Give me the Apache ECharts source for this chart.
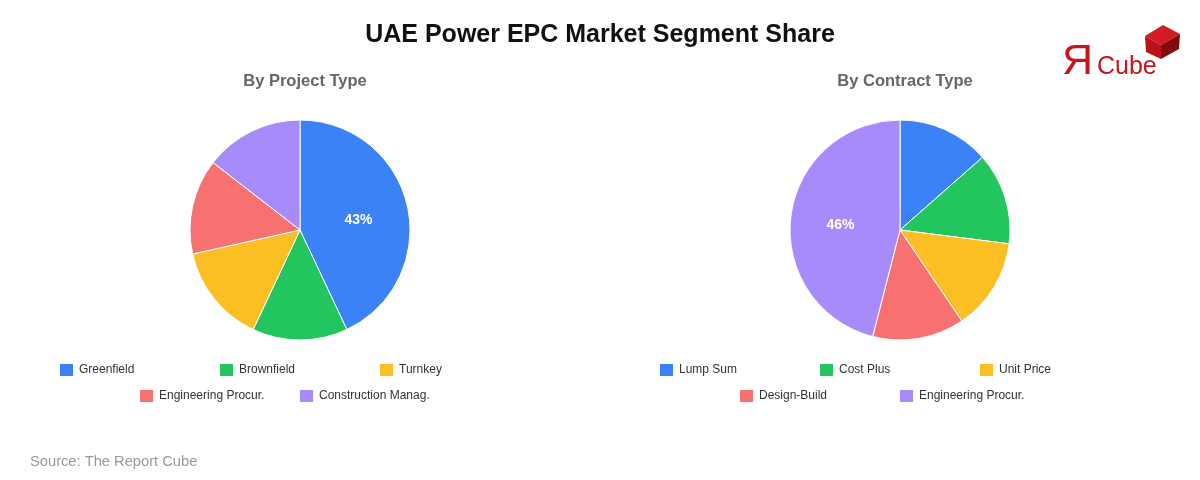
<!DOCTYPE html>
<html lang="en">
<head>
    <meta charset="UTF-8">
    <title>UAE Power EPC Market Segment Share</title>
    <script src="https://cdn.jsdelivr.net/npm/echarts@6/dist/echarts.min.js"></script>
    <style>
        html, body { margin: 0; padding: 0; background: #fff; }
        #main { width: 1200px; height: 480px; }
    </style>
</head>
<body>
<div id="main"></div>
<script>
    // data
    var projectTypes = ['Greenfield', 'Brownfield', 'Turnkey', 'Engineering Procur.', 'Construction Manag.'];
    var projectShare = [43, 14, 14.5, 14, 14.5];
    var contractTypes = ['Lump Sum', 'Cost Plus', 'Unit Price', 'Design-Build', 'Engineering Procur.'];
    var contractShare = [13.5, 13.5, 13.5, 13.5, 46];
    var colors = ['#3b82f6', '#22c55e', '#fbbf24', '#f87171', '#a78bfa'];

    var chart = echarts.init(document.getElementById('main'));
    var FONT = 'Liberation Sans, Arial, sans-serif';
    var R = 110;

    // pie data items; label nudged a little outward and down to sit like the ref
    function buildData(names, values) {
        var total = values.reduce(function (a, b) { return a + b; }, 0);
        var acc = 0;
        return names.map(function (n, i) {
            var mid = (acc + values[i] / 2) / total * Math.PI * 2;
            acc += values[i];
            return {
                name: n,
                value: values[i],
                itemStyle: { color: colors[i] },
                label: { offset: [2 * Math.sin(mid), -2 * Math.cos(mid) + 3] }
            };
        });
    }

    function pieSeries(names, values, cx) {
        return {
            type: 'pie',
            center: [cx, 230],
            radius: [0, R],
            startAngle: 90,
            clockwise: true,
            silent: true,
            itemStyle: { borderColor: '#fff', borderWidth: 1 },
            label: {
                show: true,
                position: 'inner',
                color: '#fff',
                fontFamily: FONT,
                fontSize: 14,
                fontWeight: 'bold',
                formatter: function (p) {
                    return p.percent > 20 ? Math.round(p.percent) + '%' : '';
                }
            },
            labelLine: { show: false },
            data: buildData(names, values)
        };
    }

    // one legend per item so the columns sit on a fixed 160px grid
    function legends(names, cx) {
        var out = [];
        names.forEach(function (n, i) {
            var row = i < 3 ? 0 : 1;
            var col = row === 0 ? i : i - 3;
            var startX = row === 0 ? cx - 242 : cx - 162;
            out.push({
                left: startX + col * 160,
                top: 362 + row * 26,
                itemWidth: 15,
                itemHeight: 14,
                icon: 'rect',
                selectedMode: false,
                padding: 0,
                textStyle: { fontFamily: FONT, fontSize: 12, color: '#333' },
                data: [{ name: n, itemStyle: { color: colors[i] } }]
            });
        });
        return out;
    }

    var option = {
        animation: false,
        title: [
            {
                text: 'UAE Power EPC Market Segment Share',
                left: 'center',
                top: 18,
                textStyle: { fontFamily: FONT, fontSize: 25, fontWeight: 'bold', color: '#111' }
            },
            {
                text: 'By Project Type',
                left: 300,
                top: 68,
                textAlign: 'center',
                textStyle: { fontFamily: FONT, fontSize: 16.5, fontWeight: 'bold', color: '#666' }
            },
            {
                text: 'By Contract Type',
                left: 900,
                top: 68,
                textAlign: 'center',
                textStyle: { fontFamily: FONT, fontSize: 16.5, fontWeight: 'bold', color: '#666' }
            },
            {
                text: 'Source: The Report Cube',
                left: 25,
                top: 449,
                textStyle: { fontFamily: FONT, fontSize: 14.7, fontWeight: 'normal', color: '#999' }
            }
        ],
        legend: legends(projectTypes, 300).concat(legends(contractTypes, 900)),
        series: [
            pieSeries(projectTypes, projectShare, 300),
            pieSeries(contractTypes, contractShare, 900)
        ],
        graphic: [
            // logo
            { type: 'text', left: 1062, top: 41, style: { text: 'Я', fontFamily: FONT, fontSize: 43, fill: '#c4161c' } },
            { type: 'text', left: 1097, top: 55, style: { text: 'Cube', fontFamily: FONT, fontSize: 25, fill: '#c4161c' } },
            { type: 'polygon', shape: { points: [[1163, 25], [1180, 34], [1161, 45], [1145, 36]] }, style: { fill: '#d01c22' } },
            { type: 'polygon', shape: { points: [[1145, 36], [1161, 45], [1161, 59], [1146, 52]] }, style: { fill: '#bb1219' } },
            { type: 'polygon', shape: { points: [[1161, 45], [1180, 34], [1179, 49], [1161, 59]] }, style: { fill: '#820a0e' } }
        ]
    };

    chart.setOption(option);
</script>
</body>
</html>
